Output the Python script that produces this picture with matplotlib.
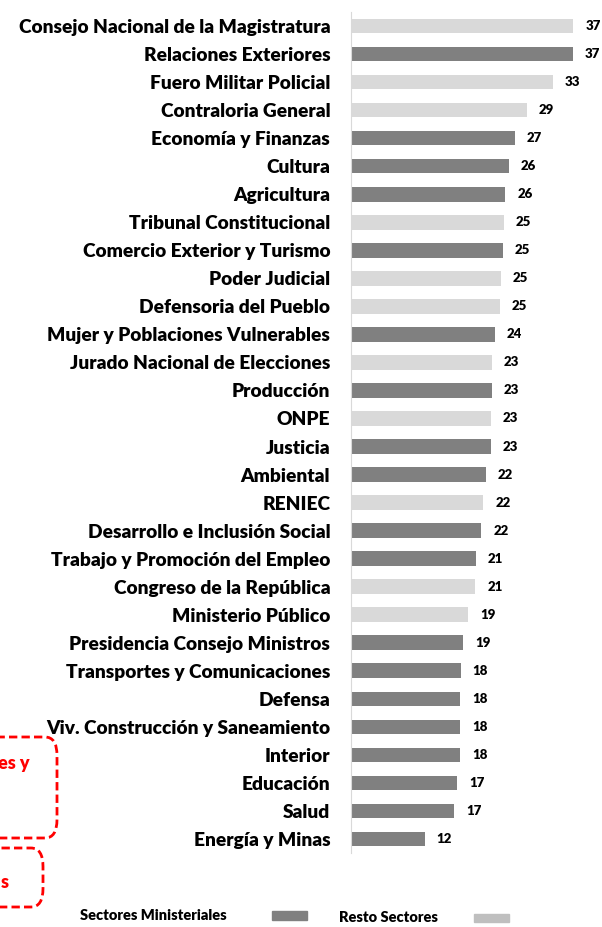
import matplotlib.pyplot as plt
from matplotlib.patches import FancyBboxPatch, Rectangle

# sectores, de arriba hacia abajo
sectores = ["Consejo Nacional de la Magistratura", "Relaciones Exteriores", "Fuero Militar Policial",
            "Contraloria General", "Economía y Finanzas", "Cultura", "Agricultura",
            "Tribunal Constitucional", "Comercio Exterior y Turismo", "Poder Judicial",
            "Defensoria del Pueblo", "Mujer y Poblaciones Vulnerables", "Jurado Nacional de Elecciones",
            "Producción", "ONPE", "Justicia", "Ambiental", "RENIEC", "Desarrollo e Inclusión Social",
            "Trabajo y Promoción del Empleo", "Congreso de la República", "Ministerio Público",
            "Presidencia Consejo Ministros", "Transportes y Comunicaciones", "Defensa",
            "Viv. Construcción y Saneamiento", "Interior", "Educación", "Salud", "Energía y Minas"]

valores = [37.05, 36.95, 33.6, 29.3, 27.3, 26.3, 25.7, 25.5, 25.3, 25.0,
           24.8, 24.0, 23.5, 23.5, 23.3, 23.3, 22.5, 22.05, 21.7, 20.8,
           20.7, 19.5, 18.7, 18.3, 18.2, 18.2, 18.2, 17.7, 17.2, 12.3]

etiquetas = [37, 37, 33, 29, 27, 26, 26, 25, 25, 25,
             25, 24, 23, 23, 23, 23, 22, 22, 22, 21,
             21, 19, 19, 18, 18, 18, 18, 17, 17, 12]

# 1 = Sectores Ministeriales, 0 = Resto Sectores
ministerial = [0, 1, 0, 0, 1, 1, 1, 0, 1, 0,
               0, 1, 0, 1, 0, 1, 1, 0, 1, 1,
               0, 0, 1, 1, 1, 1, 1, 1, 1, 1]

OSCURO = "#808080"
CLARO = "#d9d9d9"

plt.rcParams['font.family'] = ['Lato', 'DejaVu Sans']

fig = plt.figure(figsize=(6.02, 9.27), dpi=100)
W, H = 602, 927
ax = fig.add_axes([351 / W, 1 - 853 / H, 1 - 351 / W, (853 - 12) / H])

y = list(range(len(sectores)))
colores = [OSCURO if m else CLARO for m in ministerial]
ax.barh(y, valores, height=0.52, color=colores)

for yi, v, lab in zip(y, valores, etiquetas):
    ax.annotate(str(lab), (v, yi), xytext=(8.6, 0), textcoords="offset points",
                va="center", ha="left", fontsize=9.5, fontweight="heavy")

ax.set_ylim(29.5, -0.5)
ax.set_xlim(0, 251 / 6)
ax.set_yticks(y)
ax.set_yticklabels(sectores, fontsize=13.75, fontweight="heavy")
ax.tick_params(axis="y", length=0, pad=15)
ax.tick_params(axis="x", bottom=False, labelbottom=False)
for s in ["top", "right", "bottom"]:
    ax.spines[s].set_visible(False)
ax.spines["left"].set_color("#d9d9d9")

# leyenda
fig.text(80 / W, 1 - 915 / H, "Sectores Ministeriales", fontsize=10.5, fontweight="heavy", va="center")
fig.patches.append(Rectangle((272 / W, 1 - 920 / H), 35 / W, 9 / H, transform=fig.transFigure,
                             color=OSCURO))
fig.text(339 / W, 1 - 917 / H, "Resto Sectores", fontsize=10.5, fontweight="heavy", va="center")
fig.patches.append(Rectangle((474 / W, 1 - 922 / H), 35 / W, 8 / H, transform=fig.transFigure,
                             color="#bfbfbf"))

# recuadros rojos cortados a la izquierda
caja1 = FancyBboxPatch((-40 / W, 1 - 838 / H), 97 / W, 101 / H, transform=fig.transFigure,
                       boxstyle="round,pad=0,rounding_size=0.02", fill=False,
                       edgecolor="#ff0000", linestyle=(0, (3, 1.5)), linewidth=2)
caja2 = FancyBboxPatch((-40 / W, 1 - 907 / H), 83 / W, 59 / H, transform=fig.transFigure,
                       boxstyle="round,pad=0,rounding_size=0.02", fill=False,
                       edgecolor="#ff0000", linestyle=(0, (3, 1.5)), linewidth=2)
fig.patches.extend([caja1, caja2])
fig.text(30 / W, 1 - 763 / H, "es y", color="#ff0000", fontsize=13, fontweight="heavy",
         ha="right", va="center")
fig.text(9 / W, 1 - 883 / H, "s", color="#ff0000", fontsize=13, fontweight="heavy",
         ha="right", va="center")

fig.savefig("out.png", dpi=100)
